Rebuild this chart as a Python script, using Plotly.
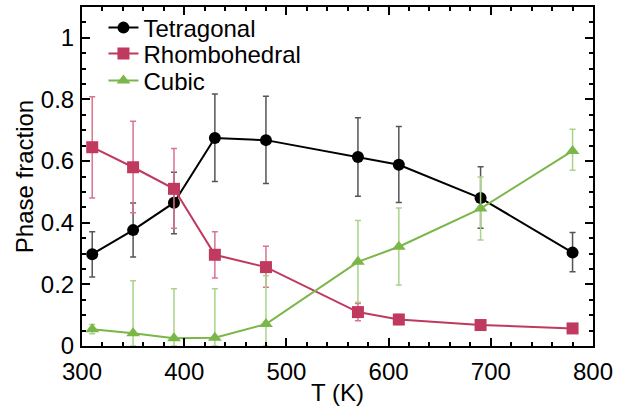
import plotly.graph_objects as go

T = [310, 350, 390, 430, 480, 570, 610, 690, 780]

tet = [0.298, 0.376, 0.465, 0.675, 0.668, 0.613, 0.588, 0.480, 0.303]
tet_hi = [0.371, 0.464, 0.564, 0.818, 0.810, 0.741, 0.712, 0.582, 0.368]
tet_lo = [0.224, 0.289, 0.364, 0.534, 0.527, 0.486, 0.466, 0.382, 0.241]

rho = [0.645, 0.580, 0.510, 0.296, 0.256, 0.110, 0.086, 0.068, 0.057]
rho_hi = [0.809, 0.729, 0.641, 0.371, 0.324, 0.138, 0.102, 0.078, 0.062]
rho_lo = [0.480, 0.432, 0.382, 0.221, 0.191, 0.082, 0.070, 0.058, 0.052]

cub = [0.054, 0.041, 0.025, 0.027, 0.071, 0.273, 0.322, 0.446, 0.633]
cub_hi = [0.070, 0.212, 0.186, 0.186, 0.228, 0.407, 0.448, 0.548, 0.703]
cub_lo = [0.040, 0.0, 0.0, 0.0, 0.0, 0.142, 0.198, 0.344, 0.570]

names = ["Tetragonal", "Rhombohedral", "Cubic"]
line_colors = ["#000000", "#C0395E", "#7AB648"]
err_colors = ["#555555", "#D9748F", "#A9D38A"]
symbols = ["circle", "square", "triangle-up"]
legend_ids = ["legend", "legend2", "legend3"]
legend_y = [0.938, 0.862, 0.782]

font = "Liberation Sans, Arial, sans-serif"
FS = 24

fig = go.Figure()
for name, y, hi, lo, lc, ec, sym, lid in zip(
        names, [tet, rho, cub], [tet_hi, rho_hi, cub_hi], [tet_lo, rho_lo, cub_lo],
        line_colors, err_colors, symbols, legend_ids):
    fig.add_trace(go.Scatter(
        x=T, y=y, name=name, mode="lines+markers", legend=lid, showlegend=True,
        line=dict(color=lc, width=2),
        marker=dict(symbol=sym, size=12, color=lc),
        error_y=dict(type="data", symmetric=False,
                     array=[h - v for h, v in zip(hi, y)],
                     arrayminus=[v - l for v, l in zip(y, lo)],
                     color=ec, thickness=1.5, width=3),
    ))

axis_common = dict(
    showline=True, linecolor="black", linewidth=2, mirror="allticks",
    ticks="inside", ticklen=8, tickwidth=1.5, tickcolor="black",
    showgrid=False, zeroline=False,
    tickfont=dict(family=font, size=FS, color="black"),
)
fig.update_xaxes(range=[300, 800], dtick=100, ticklabelstandoff=3,
                 title=dict(text="T (K)", font=dict(family=font, size=FS, color="black"), standoff=0),
                 minor=dict(ticks="inside", dtick=20, ticklen=4, tickwidth=1.5, tickcolor="black"),
                 **axis_common)
fig.update_yaxes(range=[0, 1.1], dtick=0.2, ticklabelstandoff=1,
                 title=dict(text="Phase fraction", font=dict(family=font, size=FS, color="black"), standoff=0),
                 minor=dict(ticks="inside", dtick=0.05, ticklen=4, tickwidth=1.5, tickcolor="black"),
                 **axis_common)

legend_common = dict(x=0.042, xanchor="left", yanchor="middle",
                     bgcolor="rgba(0,0,0,0)", font=dict(family=font, size=FS, color="black"))
fig.update_layout(
    width=618, height=415,
    margin=dict(l=82, r=22, t=5, b=69),
    plot_bgcolor="white", paper_bgcolor="white",
    showlegend=True,
    font=dict(family=font, size=FS, color="black"),
    legend=dict(y=legend_y[0], **legend_common),
    legend2=dict(y=legend_y[1], **legend_common),
    legend3=dict(y=legend_y[2], **legend_common),
)

fig.write_html("out.html")
